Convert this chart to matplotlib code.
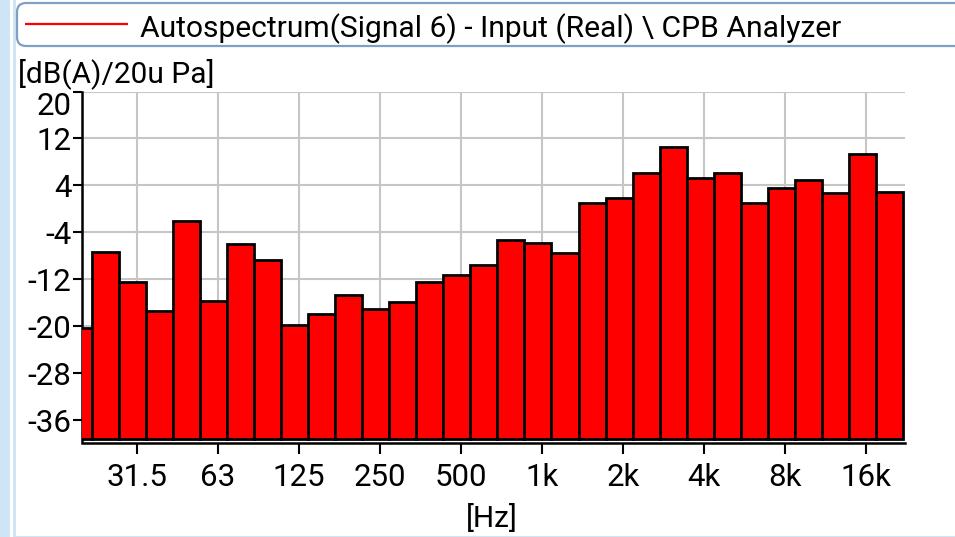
import matplotlib
matplotlib.use("Agg")
import matplotlib.pyplot as plt
from matplotlib.patches import FancyBboxPatch, Rectangle

# ---- data -------------------------------------------------------------
bands = ['20', '25', '31.5', '40', '50', '63', '80', '100', '125', '160',
         '200', '250', '315', '400', '500', '630', '800', '1k', '1.25k',
         '1.6k', '2k', '2.5k', '3.15k', '4k', '5k', '6.3k', '8k', '10k',
         '12.5k', '16k', '20k']
levels = [-20.2, -7.4, -12.5, -17.4, -2.0, -15.7, -6.0, -8.7, -19.8, -17.8,
          -14.7, -17.0, -15.9, -12.4, -11.3, -9.6, -5.3, -5.8, -7.5,
          1.0, 1.9, 6.2, 10.6, 5.2, 6.1, 1.1, 3.65, 4.9,
          2.7, 9.4, 2.9]
x_tick_labels = ['31.5', '63', '125', '250', '500', '1k', '2k', '4k', '8k', '16k']
y_ticks = [-36, -28, -20, -12, -4, 4, 12, 20]
title = "Autospectrum(Signal 6) - Input (Real) \\ CPB Analyzer"
y_label = "[dB(A)/20u Pa]"
x_label = "[Hz]"

# ---- style ------------------------------------------------------------
W, H, DPI = 955, 537, 100
FONT = ['Roboto', 'DejaVu Sans']
plt.rcParams['font.family'] = FONT
bar_base = -39.2
y_min, y_max = -39.5, 20
tick_offset = 0.15

fig = plt.figure(figsize=(W / DPI, H / DPI), dpi=DPI)
fig.patch.set_facecolor('white')

# background / frame overlay in pixel coordinates
bg = fig.add_axes([0, 0, 1, 1], zorder=0)
bg.set_xlim(0, W)
bg.set_ylim(H, 0)
bg.axis('off')
bg.add_patch(Rectangle((0, 0), 10, H, color='#cfe4f5', lw=0))
bg.add_patch(Rectangle((12.7, 0), 3.3, H, color='#cfe4f5', lw=0))
bg.add_patch(Rectangle((12.7, 535.5), W, 2, color='#cfe4f5', lw=0))
box = FancyBboxPatch((17, 3), 980, 43, boxstyle="round,pad=0,rounding_size=9",
                     fc='white', ec='#7f9fc4', lw=1.6)
bg.add_patch(box)
bg.plot([25, 128], [24, 24], color='#ff0000', lw=1.6, solid_capstyle='butt')
bg.text(140, 37.5, title, fontsize=21.6, va='baseline', ha='left', color='black')
bg.text(18, 82.5, y_label, fontsize=21.5, va='baseline', ha='left', color='black')
bg.text(492, 527.5, x_label, fontsize=21.5, va='baseline', ha='center', color='black')

# plot axes
left, right, top, bottom = 82, 905, 91.5, 441
ax = fig.add_axes([left / W, (H - bottom) / H, (right - left) / W, (bottom - top) / H],
                  zorder=1)
ax.set_facecolor('none')
x = list(range(len(bands)))
heights = [v - bar_base for v in levels]
ax.bar(x, heights, bottom=bar_base, width=1.0, color='#ff0000',
       edgecolor='black', linewidth=2.0, zorder=3)

ax.set_xlim(0.13, 30.58)
ax.set_ylim(y_min, y_max)

xt = [bands.index(t) + tick_offset for t in x_tick_labels]
ax.set_xticks(xt)
ax.set_xticklabels(x_tick_labels)
ax.set_yticks(y_ticks)
ax.set_yticklabels([str(v) for v in y_ticks])
for lab in ax.get_yticklabels():
    if lab.get_text() == '20':
        lab.set_va('top')

ax.grid(True, color='#c6c6c6', linewidth=1.5, zorder=0)
ax.set_axisbelow(True)
for s in ['top', 'right']:
    ax.spines[s].set_visible(False)
ax.spines['left'].set_linewidth(1.8)
ax.spines['bottom'].set_linewidth(1.8)
ax.spines['bottom'].set_position(('outward', 1.5))
ax.tick_params(axis='both', colors='black', labelsize=22.5, width=1.5, direction='out')
ax.tick_params(axis='y', length=6.5, pad=1)
ax.tick_params(axis='x', length=8, pad=6)

fig.savefig('out.png', dpi=DPI, facecolor='white')
